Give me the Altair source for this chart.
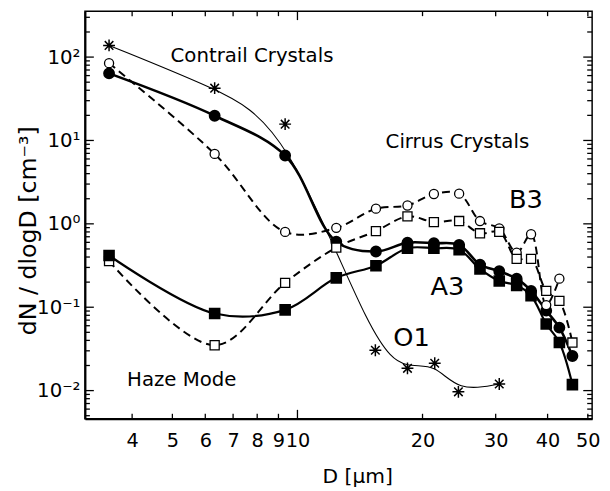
import altair as alt
import pandas as pd

# ---------------- data ----------------
# particle diameter D [µm] for the A3 / B3 size bins
d_bins = [3.52, 6.32, 9.34, 12.4, 15.45, 18.4, 21.3, 24.5, 27.5, 30.6, 33.7, 36.5, 39.7, 42.7, 45.9]
a3_circle = [63.8, 19.8, 6.6, 0.61, 0.466, 0.594, 0.585, 0.56, 0.324, 0.27, 0.22, 0.157, 0.091, 0.057, 0.026]
b3_circle = [84.5, 6.9, 0.80, 0.895, 1.52, 1.66, 2.28, 2.3, 1.08, 0.88, 0.45, 0.75, 0.106, 0.22]
b3_square = [0.357, 0.035, 0.196, 0.519, 0.818, 1.23, 1.05, 1.08, 0.77, 0.80, 0.38, 0.38, 0.157, 0.119, 0.0377]
a3_square = [0.417, 0.084, 0.093, 0.225, 0.315, 0.51, 0.51, 0.49, 0.288, 0.206, 0.183, 0.137, 0.063, 0.0377, 0.0118]

# O1 (asterisks)
d_o1 = [3.52, 6.32, 9.34, 15.4, 18.4, 21.4, 24.4, 30.6]
o1 = [138, 42.4, 15.7, 0.0305, 0.0185, 0.0213, 0.00966, 0.012]

# annotations (anchored in data units)
small_labels = ["Contrail Crystals", "Cirrus Crystals", "Haze Mode"]
small_x = [4.95, 16.3, 3.89]
small_y = [88.5, 8.05, 0.01137]
big_labels = ["B3", "A3", "O1"]
big_x = [32.3, 20.9, 17.0]
big_y = [1.57, 0.139, 0.0347]

x_tick_labels = [4, 5, 6, 7, 8, 9, 10, 20, 30, 40, 50]
x_minor = [4, 5, 6, 7, 8, 9, 20, 30, 40, 50]
x_major = [10]
y_major = [0.01, 0.1, 1, 10, 100]

# ---------------- layout / style ----------------
W, H = 514, 413
FONT = "DejaVu Sans"
X_DOM = [3.08, 51.2]
Y_DOM = [0.0046, 355]
y_minor = [round(m * 10 ** k, 6) for k in range(-3, 3) for m in range(2, 10)
           if Y_DOM[0] <= m * 10 ** k <= Y_DOM[1]]

xs = alt.Scale(type="log", domain=X_DOM, nice=False)
ys = alt.Scale(type="log", domain=Y_DOM, nice=False)

STAR = "M-1,0L1,0M0,-1L0,1M-0.72,-0.72L0.72,0.72M-0.72,0.72L0.72,-0.72"

x_label_axis = alt.Axis(
    orient="bottom", values=x_tick_labels, ticks=False, domain=True,
    domainColor="black", domainWidth=2, grid=False,
    format="d", labelFont=FONT, labelFontSize=19.5, labelColor="black",
    labelPadding=13, labelOverlap=False, labelFlush=False,
    title="D [µm]", titleFont=FONT, titleFontSize=20.5, titleFontWeight="normal",
    titleColor="black", titleX=276, titleY=65, titleBaseline="alphabetic",
    titleAlign="center")

y_label_axis = alt.Axis(
    orient="left", values=y_major, ticks=False, domain=True,
    domainColor="black", domainWidth=2, grid=False,
    labelExpr=("datum.value >= 99 ? '10²' : datum.value >= 9 ? '10¹' : "
               "datum.value >= 0.9 ? '10⁰' : datum.value >= 0.09 ? '10⁻¹' : '10⁻²'"),
    labelFont=FONT, labelFontSize=20, labelColor="black", labelPadding=5,
    labelOverlap=False,
    title="dN / dlogD [cm⁻³]", titleFont=FONT, titleFontSize=24,
    titleFontWeight="normal", titleColor="black", titleX=-50, titleY=222,
    titleAngle=270, titleBaseline="alphabetic", titleAlign="center")


def frame(d, v):
    n = min(len(d), len(v))
    return pd.DataFrame({"D": d[:n], "v": v[:n]})


series = [
    # data, line width, dash, interpolation
    (frame(d_o1, o1), 1.1, None, "basis"),
    (frame(d_bins, a3_circle), 2.6, None, "catmull-rom"),
    (frame(d_bins, b3_circle), 2.0, [8, 5], "catmull-rom"),
    (frame(d_bins, b3_square), 2.0, [8, 5], "catmull-rom"),
    (frame(d_bins, a3_square), 2.2, None, "catmull-rom"),
]

layers = []
for i, (df, w, dash, interp) in enumerate(series):
    mk = dict(color="black", strokeWidth=w, interpolate=interp)
    if dash:
        mk["strokeDash"] = dash
    layers.append(
        alt.Chart(df).mark_line(**mk).encode(
            x=alt.X("D:Q", scale=xs, axis=x_label_axis if i == 0 else None),
            y=alt.Y("v:Q", scale=ys, axis=y_label_axis if i == 0 else None),
        )
    )


def pts(df, **mk):
    return alt.Chart(df).mark_point(opacity=1, **mk).encode(
        x=alt.X("D:Q", scale=xs, axis=None),
        y=alt.Y("v:Q", scale=ys, axis=None),
    )


layers += [
    pts(series[0][0], shape=STAR, filled=False, stroke="black", strokeWidth=1.5, size=145),
    pts(series[1][0], shape="circle", filled=True, fill="black", stroke="black", size=100),
    pts(series[2][0], shape="circle", filled=True, fill="white", stroke="black", strokeWidth=1.3, size=85),
    pts(series[3][0], shape="square", filled=True, fill="white", stroke="black", strokeWidth=1.3, size=85),
    pts(series[4][0], shape="square", filled=True, fill="black", stroke="black", size=95),
]

small_df = pd.DataFrame({"label": small_labels, "x": small_x, "y": small_y})
big_df = pd.DataFrame({"label": big_labels, "x": big_x, "y": big_y})
for df, fs in [(small_df, 20), (big_df, 26)]:
    layers.append(
        alt.Chart(df).mark_text(font=FONT, fontSize=fs, align="left",
                                baseline="alphabetic", color="black").encode(
            x=alt.X("x:Q", scale=xs, axis=None),
            y=alt.Y("y:Q", scale=ys, axis=None),
            text="label:N",
        )
    )


# inward tick marks (positions from the scales, lengths in pixels)
def yticks(vals, x0, x1):
    return alt.Chart(pd.DataFrame({"v": vals})).mark_rule(
        color="black", strokeWidth=1.3).encode(
        y=alt.Y("v:Q", scale=ys, axis=None), x=alt.value(x0), x2=alt.value(x1))


def xticks(vals, y0, y1):
    return alt.Chart(pd.DataFrame({"D": vals})).mark_rule(
        color="black", strokeWidth=1.3).encode(
        x=alt.X("D:Q", scale=xs, axis=None), y=alt.value(y0), y2=alt.value(y1))


MAJ, MIN = 9, 5
layers += [
    yticks(y_major, 0, MAJ), yticks(y_minor, 0, MIN),
    yticks(y_major, W, W - MAJ), yticks(y_minor, W, W - MIN),
    xticks(x_major, H, H - MAJ), xticks(x_minor, H, H - MIN),
    xticks(x_major, 0, MAJ), xticks(x_minor, 0, MIN),
]

chart = alt.layer(*layers).resolve_axis(
    x="independent", y="independent"
).properties(
    width=W, height=H,
    padding={"left": 78, "top": 0, "right": 10, "bottom": 70},
    autosize=alt.AutoSizeParams(type="none"),
    background="white",
).configure_view(stroke="black", strokeWidth=1.5)

chart.save("out.html", embed_options={"renderer": "svg", "actions": False})
